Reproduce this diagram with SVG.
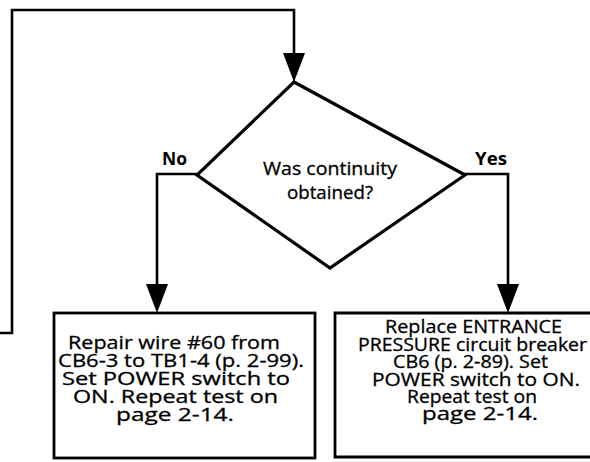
<svg xmlns="http://www.w3.org/2000/svg" width="590" height="462" viewBox="0 0 590 462">
  <style>
    .conn { fill: none; stroke: #000; stroke-width: 2.6; stroke-linejoin: miter; }
    .shape { fill: #fff; stroke: #000; stroke-width: 2.8; stroke-linejoin: miter; }
    .diamond { fill: #fff; stroke: #000; stroke-width: 3.2; stroke-linejoin: miter; }
    .t { font-family: "Open Sans", "DejaVu Sans", "Liberation Sans", sans-serif; font-size: 18px; font-weight: normal; fill: #000; stroke: #000; stroke-width: 0.3; text-anchor: middle; }
    .lbl { font-family: "Open Sans", "DejaVu Sans", "Liberation Sans", sans-serif; font-size: 17px; font-weight: bold; fill: #000; text-anchor: middle; }
  </style>
  <defs>
    <marker id="arrow" viewBox="0 0 29 22" refX="21" refY="11" markerWidth="29" markerHeight="22" markerUnits="userSpaceOnUse" orient="auto">
      <path d="M0,0 L29,11 L0,22 z" fill="#000"/>
    </marker>
  </defs>
  <rect width="590" height="462" fill="#fff"/>

  <g id="connectors">
    <path class="conn" d="M0,333 H12 V10 H294 V74" marker-end="url(#arrow)"/>
    <path class="conn" d="M197,174 H157 V305" marker-end="url(#arrow)"/>
    <path class="conn" d="M464,174 H508 V305" marker-end="url(#arrow)"/>
  </g>

  <g id="decision">
    <polygon class="diamond" points="294,82 465,175 330,268 197,175"/>
    <text class="t" x="330" y="175" textLength="134" lengthAdjust="spacingAndGlyphs">Was continuity</text>
    <text class="t" x="330" y="199" textLength="86" lengthAdjust="spacingAndGlyphs">obtained?</text>
  </g>

  <g id="label-no">
    <text class="lbl" x="174.5" y="165" textLength="25" lengthAdjust="spacingAndGlyphs">No</text>
  </g>
  <g id="label-yes">
    <text class="lbl" x="491" y="165" textLength="32" lengthAdjust="spacingAndGlyphs">Yes</text>
  </g>

  <g id="repair-box">
    <rect class="shape" x="54" y="313" width="261" height="145"/>
    <text class="t" x="174" y="349" textLength="212" lengthAdjust="spacingAndGlyphs">Repair wire #60 from</text>
    <text class="t" x="181" y="367" textLength="246" lengthAdjust="spacingAndGlyphs">CB6-3 to TB1-4 (p. 2-99).</text>
    <text class="t" x="176" y="385" textLength="228" lengthAdjust="spacingAndGlyphs">Set POWER switch to</text>
    <text class="t" x="175.5" y="403" textLength="205" lengthAdjust="spacingAndGlyphs">ON. Repeat test on</text>
    <text class="t" x="175" y="421" textLength="118" lengthAdjust="spacingAndGlyphs">page 2-14.</text>
  </g>

  <g id="replace-box">
    <path class="shape" d="M594,313 H335 V457 H594"/>
    <text class="t" x="473.5" y="333" textLength="177" lengthAdjust="spacingAndGlyphs">Replace ENTRANCE</text>
    <text class="t" x="472.5" y="351" textLength="229" lengthAdjust="spacingAndGlyphs">PRESSURE circuit breaker</text>
    <text class="t" x="470.5" y="368" textLength="155" lengthAdjust="spacingAndGlyphs">CB6 (p. 2-89). Set</text>
    <text class="t" x="476" y="386" textLength="208" lengthAdjust="spacingAndGlyphs">POWER switch to ON.</text>
    <text class="t" x="472" y="403" textLength="130" lengthAdjust="spacingAndGlyphs">Repeat test on</text>
    <text class="t" x="480" y="420" textLength="116" lengthAdjust="spacingAndGlyphs">page 2-14.</text>
  </g>
</svg>
